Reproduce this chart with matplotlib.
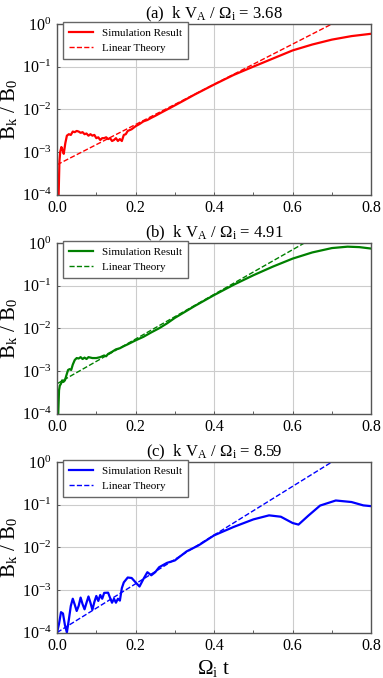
import numpy as np
import matplotlib
matplotlib.use('Agg')
import matplotlib.pyplot as plt

plt.rcParams['font.family'] = ['Liberation Serif', 'DejaVu Serif']
plt.rcParams['mathtext.fontset'] = 'stix'

# Panel (a): k V_A / Omega_i = 3.68
t_a = [0.004, 0.006, 0.008, 0.011, 0.014, 0.017, 0.021, 0.025, 0.03, 0.035, 0.04, 0.045, 0.05,
       0.055, 0.06, 0.065, 0.07, 0.075, 0.08, 0.085, 0.09, 0.095, 0.10, 0.105, 0.11, 0.115,
       0.12, 0.125, 0.13, 0.135, 0.14, 0.145, 0.15, 0.155, 0.16, 0.165, 0.17, 0.175, 0.18,
       0.19, 0.2, 0.21, 0.22, 0.23, 0.24, 0.25, 0.27, 0.29, 0.32, 0.35, 0.4, 0.45, 0.5,
       0.55, 0.6, 0.65, 0.7, 0.75, 0.8]
b_a = [1e-4, 6e-4, 1.0e-3, 1.3e-3, 1.1e-3, 9e-4, 1.6e-3, 2.4e-3, 2.6e-3, 2.5e-3, 3.0e-3, 2.9e-3, 3.1e-3,
       3.0e-3, 2.8e-3, 2.9e-3, 2.6e-3, 2.7e-3, 2.4e-3, 2.6e-3, 2.4e-3, 2.5e-3, 2.1e-3, 2.2e-3, 1.9e-3, 2.1e-3,
       2.1e-3, 2.2e-3, 2.0e-3, 2.1e-3, 1.8e-3, 1.9e-3, 2.1e-3, 1.8e-3, 2.0e-3, 1.8e-3, 2.5e-3, 2.6e-3, 3.1e-3,
       3.4e-3, 4.0e-3, 4.5e-3, 5.2e-3, 5.6e-3, 6.3e-3, 7.0e-3, 8.8e-3, 1.1e-2, 1.55e-2, 2.2e-2, 3.8e-2, 6.4e-2, 1.0e-1,
       1.55e-1, 2.4e-1, 3.3e-1, 4.3e-1, 5.2e-1, 5.9e-1]
lin_t_a = [0.0, 0.7]
lin_b_a = [5e-4, 1.0]

# Panel (b): k V_A / Omega_i = 4.91
t_b = [0.003, 0.005, 0.007, 0.01, 0.013, 0.016, 0.02, 0.024, 0.028, 0.032, 0.036, 0.04, 0.045,
       0.05, 0.055, 0.06, 0.065, 0.07, 0.075, 0.08, 0.09, 0.1, 0.11, 0.12, 0.125, 0.13, 0.14,
       0.15, 0.16, 0.17, 0.18, 0.2, 0.22, 0.24, 0.26, 0.28, 0.3, 0.35, 0.4, 0.45, 0.5, 0.55,
       0.6, 0.65, 0.7, 0.74, 0.77, 0.8]
b_b = [1e-4, 3.5e-4, 4.5e-4, 5e-4, 6e-4, 5.5e-4, 6e-4, 8e-4, 1.05e-3, 1.1e-3, 1.05e-3, 1.4e-3, 1.8e-3,
       2.0e-3, 1.95e-3, 2.1e-3, 1.9e-3, 2.05e-3, 1.9e-3, 2.1e-3, 2.0e-3, 2.0e-3, 2.1e-3, 2.3e-3, 2.2e-3, 2.5e-3, 2.8e-3,
       3.2e-3, 3.4e-3, 3.8e-3, 4.2e-3, 5.2e-3, 6.3e-3, 8.0e-3, 1.0e-2, 1.3e-2, 1.75e-2, 3.3e-2, 6.0e-2, 1.05e-1, 1.75e-1, 2.8e-1,
       4.3e-1, 6.0e-1, 7.6e-1, 8.2e-1, 8.0e-1, 7.4e-1]
lin_t_b = [0.0, 0.63]
lin_b_b = [5e-4, 1.0]

# Panel (c): k V_A / Omega_i = 8.59
t_c = [0.0, 0.005, 0.01, 0.015, 0.02, 0.025, 0.03, 0.035, 0.04, 0.045, 0.05, 0.055, 0.06, 0.065,
       0.07, 0.075, 0.08, 0.085, 0.09, 0.095, 0.10, 0.105, 0.11, 0.115, 0.12, 0.13, 0.135, 0.14,
       0.145, 0.15, 0.155, 0.16, 0.165, 0.17, 0.18, 0.19, 0.2, 0.21, 0.22, 0.23, 0.24, 0.25, 0.26,
       0.28, 0.3, 0.33, 0.36, 0.4, 0.45, 0.5, 0.54, 0.57, 0.6, 0.615, 0.64, 0.67, 0.71, 0.75,
       0.78, 0.8]
b_c = [1.0e-4, 1.6e-4, 3.0e-4, 2.8e-4, 1.5e-4, 1.0e-4, 2.0e-4, 4.2e-4, 6.2e-4, 4.5e-4, 3.2e-4, 4.2e-4, 6.6e-4, 4.6e-4,
       3.5e-4, 5.0e-4, 7.0e-4, 5.0e-4, 3.4e-4, 5.2e-4, 7.2e-4, 5.5e-4, 7.6e-4, 6.2e-4, 8.5e-4, 8.6e-4, 6.5e-4, 5.0e-4,
       6.2e-4, 5.0e-4, 6.2e-4, 5.6e-4, 1.1e-3, 1.5e-3, 1.95e-3, 1.9e-3, 1.5e-3, 1.2e-3, 1.8e-3, 2.6e-3, 2.2e-3, 2.6e-3, 3.4e-3,
       4.3e-3, 4.9e-3, 8.0e-3, 1.1e-2, 1.9e-2, 3.0e-2, 4.5e-2, 5.6e-2, 5.2e-2, 3.7e-2, 3.4e-2, 5.5e-2, 9.5e-2, 1.25e-1, 1.15e-1,
       9.6e-2, 9.2e-2]
lin_t_c = [0.0, 0.7]
lin_b_c = [1e-4, 1.0]

panels = [
    ('(a)', '3.68', t_a, b_a, lin_t_a, lin_b_a, 'red'),
    ('(b)', '4.91', t_b, b_b, lin_t_b, lin_b_b, 'green'),
    ('(c)', '8.59', t_c, b_c, lin_t_c, lin_b_c, 'blue'),
]

fig = plt.figure(figsize=(3.83, 6.78), dpi=100)
tops = [0.9646, 0.6416, 0.3186]
h = 0.2515

for i, (tag, kval, t, b, lt, lb, col) in enumerate(panels):
    ax = fig.add_axes([0.149, tops[i] - h, 0.82, h])
    ax.plot(t, b, color=col, lw=1.6, label='Simulation Result')
    ax.plot(lt, lb, color=col, lw=1.0, ls='--', label='Linear Theory')
    ax.set_yscale('log')
    ax.set_xlim(0, 0.8)
    ax.set_ylim(1e-4, 1)
    ax.set_xticks([0, 0.2, 0.4, 0.6, 0.8])
    ax.set_xticklabels(['0.0', '0.2', '0.4', '0.6', '0.8'])
    ax.set_yticks([1e-4, 1e-3, 1e-2, 1e-1, 1])
    ax.yaxis.set_minor_locator(matplotlib.ticker.NullLocator())
    ax.set_xticks([0.1, 0.3, 0.5, 0.7], minor=True)
    ax.grid(True, which='major', color='#cccccc', lw=0.8)
    ax.tick_params(which='both', direction='in', labelsize=11.5, length=2.5, width=0.6,
                   colors='#444444', labelcolor='black')
    ax.tick_params(axis='y', pad=4)
    ax.tick_params(axis='x', pad=4)
    for s in ax.spines.values():
        s.set_color('#555555')
        s.set_linewidth(1.0)
    ax.set_title(tag + r'  k V$_\mathregular{A}$ / $\mathregular{\Omega_i}$ = ' + kval, fontsize=12, pad=3)
    ax.set_ylabel(r'B$_\mathregular{k}$ / B$_\mathregular{0}$', fontsize=15, labelpad=1)
    leg = ax.legend(loc='upper left', fontsize=8, fancybox=False, framealpha=1,
                    edgecolor='#666666', handlelength=2.2, borderpad=0.5, labelspacing=0.5,
                    bbox_to_anchor=(0.02, 1.01), borderaxespad=0)
    leg.get_frame().set_linewidth(1.0)
    if i == 2:
        ax.set_xlabel(r'$\mathregular{\Omega_i}$ t', fontsize=15, labelpad=3)

fig.savefig('out.png', dpi=100)
